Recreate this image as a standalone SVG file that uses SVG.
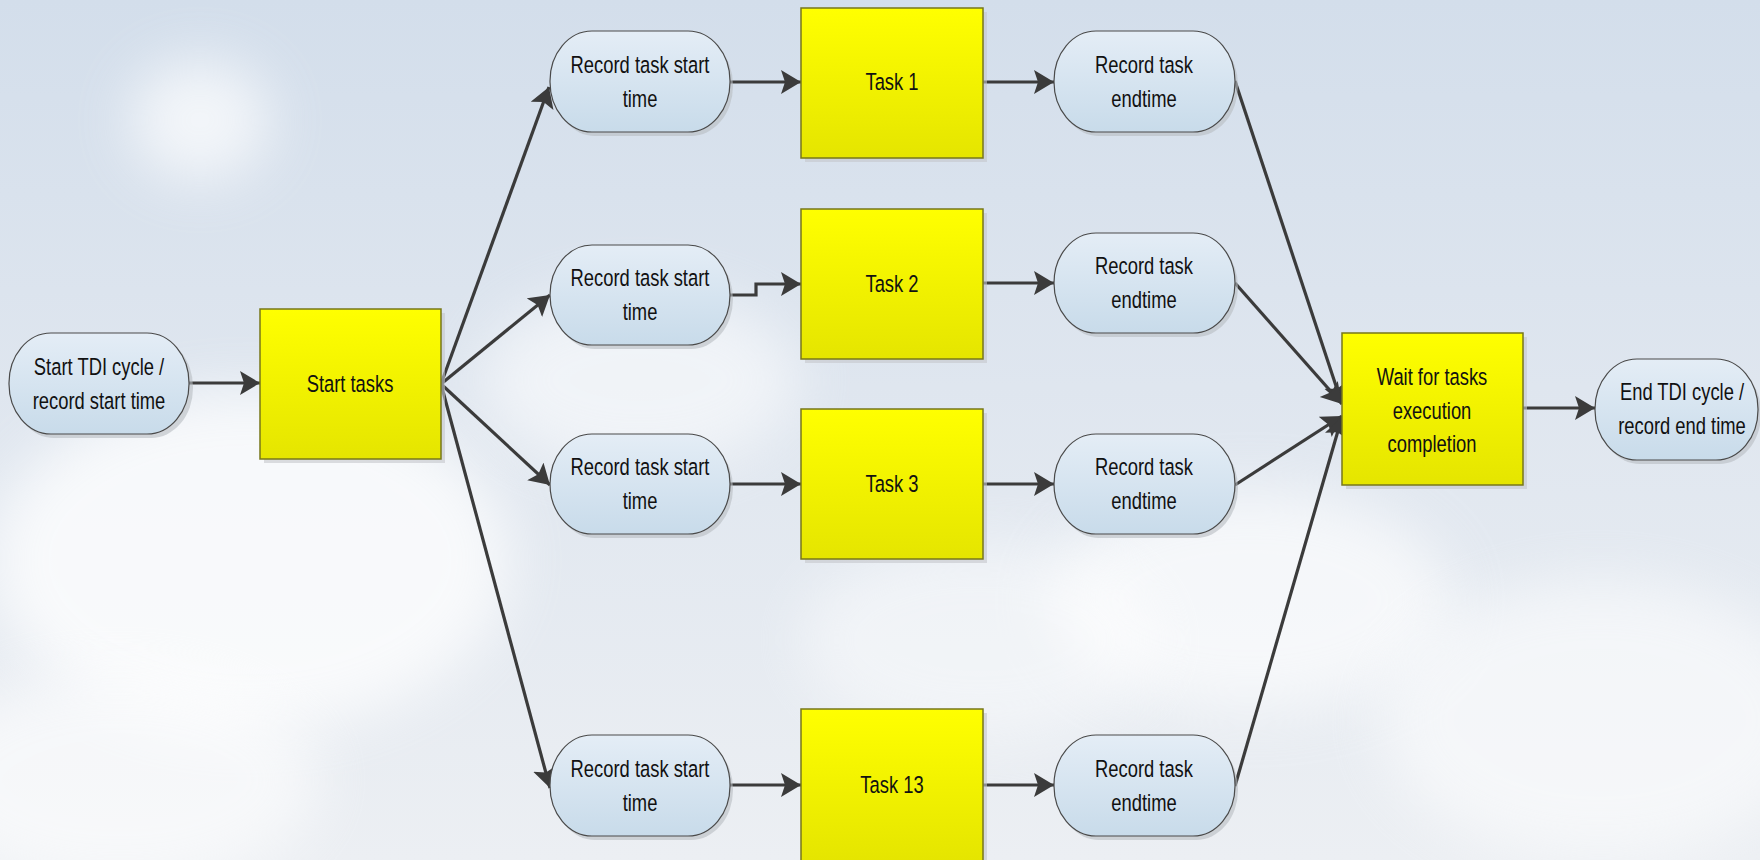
<svg xmlns="http://www.w3.org/2000/svg" width="1760" height="860" viewBox="0 0 1760 860">
  <defs>
    <linearGradient id="sky" x1="0" y1="0" x2="0" y2="1">
      <stop offset="0" stop-color="#d3deeb"/>
      <stop offset="0.45" stop-color="#dfe6ef"/>
      <stop offset="1" stop-color="#eceff3"/>
    </linearGradient>
    <linearGradient id="pillFill" x1="0" y1="0" x2="0" y2="1">
      <stop offset="0" stop-color="#e4edf6"/>
      <stop offset="1" stop-color="#c8dbea"/>
    </linearGradient>
    <linearGradient id="boxFill" x1="0" y1="0" x2="0" y2="1">
      <stop offset="0" stop-color="#ffff00"/>
      <stop offset="1" stop-color="#e5e500"/>
    </linearGradient>
    <filter id="cloudBlur" x="-50%" y="-50%" width="200%" height="200%">
      <feGaussianBlur stdDeviation="28"/>
    </filter>
    <marker id="arrow" markerUnits="userSpaceOnUse" markerWidth="22" markerHeight="26" refX="20" refY="12" orient="auto">
      <path d="M0,0 L20,12 L0,24 L4,12 z" fill="#3b3b3b"/>
    </marker>
    <style>
      .pill { fill: url(#pillFill); stroke: #4a4a4a; stroke-width: 1.2; }
      .pill-shadow { fill: #b8bcc2; opacity: 0.6; }
      .box { fill: url(#boxFill); stroke: #77771a; stroke-width: 1.5; }
      .box-shadow { fill: #c4c7cc; opacity: 0.6; }
      .label { font-family: "Liberation Sans", "DejaVu Sans", sans-serif; font-size: 24.5px; fill: #111111; text-anchor: middle; }
      .edge { fill: none; stroke: #3b3b3b; stroke-width: 3.2; marker-end: url(#arrow); }
      .cloud { fill: #ffffff; filter: url(#cloudBlur); }
    </style>
  </defs>

  <!-- sky backdrop -->
  <rect x="0" y="0" width="1760" height="860" fill="url(#sky)"/>
  <g id="clouds">
    <ellipse class="cloud" cx="200" cy="120" rx="70" ry="60" opacity="0.7"/>
    <ellipse class="cloud" cx="250" cy="560" rx="260" ry="170" opacity="0.75"/>
    <ellipse class="cloud" cx="120" cy="780" rx="200" ry="110" opacity="0.6"/>
    <ellipse class="cloud" cx="640" cy="380" rx="160" ry="90" opacity="0.55"/>
    <ellipse class="cloud" cx="1250" cy="600" rx="200" ry="110" opacity="0.65"/>
    <ellipse class="cloud" cx="1600" cy="720" rx="220" ry="140" opacity="0.55"/>
    <ellipse class="cloud" cx="980" cy="640" rx="180" ry="100" opacity="0.45"/>
  </g>

  <!-- connectors -->
  <g id="connectors">
    <path class="edge" d="M189,383 L260,383"/>
    <path class="edge" d="M441,384 L549,87"/>
    <path class="edge" d="M441,384 L550,295"/>
    <path class="edge" d="M441,384 L550,485"/>
    <path class="edge" d="M441,384 L550,788"/>
    <path class="edge" d="M730,82 L801,82"/>
    <path class="edge" d="M730,295 L756,295 L756,284 L801,284"/>
    <path class="edge" d="M730,484 L801,484"/>
    <path class="edge" d="M730,785 L801,785"/>
    <path class="edge" d="M983,82 L1054,82"/>
    <path class="edge" d="M983,283 L1054,283"/>
    <path class="edge" d="M983,484 L1054,484"/>
    <path class="edge" d="M983,785 L1054,785"/>
    <path class="edge" d="M1235,81 L1342,404"/>
    <path class="edge" d="M1235,283 L1342,404"/>
    <path class="edge" d="M1235,485 L1342,416"/>
    <path class="edge" d="M1235,786 L1342,417"/>
    <path class="edge" d="M1523,408 L1595,408"/>
  </g>

  <!-- start of cycle -->
  <g id="start-cycle">
    <rect class="pill-shadow" x="12" y="337" width="181" height="101" rx="42" ry="50"/>
    <rect class="pill" x="9" y="333" width="180" height="101" rx="42" ry="50"/>
    <text class="label" transform="matrix(0.75,0,0,1,99,0)" x="0" y="375">Start TDI cycle /</text>
    <text class="label" transform="matrix(0.75,0,0,1,99,0)" x="0" y="409">record start time</text>
  </g>

  <g id="start-tasks">
    <rect class="box-shadow" x="264" y="313" width="181" height="150"/>
    <rect class="box" x="260" y="309" width="181" height="150"/>
    <text class="label" transform="matrix(0.75,0,0,1,350,0)" x="0" y="392">Start tasks</text>
  </g>

  <!-- row 1 -->
  <g id="rec-start-1">
    <rect class="pill-shadow" x="553" y="35" width="180" height="101" rx="42" ry="50"/>
    <rect class="pill" x="550" y="31" width="180" height="101" rx="42" ry="50"/>
    <text class="label" transform="matrix(0.75,0,0,1,640,0)" x="0" y="73">Record task start</text>
    <text class="label" transform="matrix(0.75,0,0,1,640,0)" x="0" y="107">time</text>
  </g>
  <g id="task-1">
    <rect class="box-shadow" x="805" y="12" width="182" height="150"/>
    <rect class="box" x="801" y="8" width="182" height="150"/>
    <text class="label" transform="matrix(0.75,0,0,1,892,0)" x="0" y="90">Task 1</text>
  </g>
  <g id="rec-end-1">
    <rect class="pill-shadow" x="1057" y="35" width="181" height="101" rx="42" ry="50"/>
    <rect class="pill" x="1054" y="31" width="181" height="101" rx="42" ry="50"/>
    <text class="label" transform="matrix(0.75,0,0,1,1144,0)" x="0" y="73">Record task</text>
    <text class="label" transform="matrix(0.75,0,0,1,1144,0)" x="0" y="107">endtime</text>
  </g>

  <!-- row 2 -->
  <g id="rec-start-2">
    <rect class="pill-shadow" x="553" y="249" width="180" height="100" rx="42" ry="50"/>
    <rect class="pill" x="550" y="245" width="180" height="100" rx="42" ry="50"/>
    <text class="label" transform="matrix(0.75,0,0,1,640,0)" x="0" y="286">Record task start</text>
    <text class="label" transform="matrix(0.75,0,0,1,640,0)" x="0" y="320">time</text>
  </g>
  <g id="task-2">
    <rect class="box-shadow" x="805" y="213" width="182" height="150"/>
    <rect class="box" x="801" y="209" width="182" height="150"/>
    <text class="label" transform="matrix(0.75,0,0,1,892,0)" x="0" y="292">Task 2</text>
  </g>
  <g id="rec-end-2">
    <rect class="pill-shadow" x="1057" y="237" width="181" height="100" rx="42" ry="50"/>
    <rect class="pill" x="1054" y="233" width="181" height="100" rx="42" ry="50"/>
    <text class="label" transform="matrix(0.75,0,0,1,1144,0)" x="0" y="274">Record task</text>
    <text class="label" transform="matrix(0.75,0,0,1,1144,0)" x="0" y="308">endtime</text>
  </g>

  <!-- row 3 -->
  <g id="rec-start-3">
    <rect class="pill-shadow" x="553" y="438" width="180" height="100" rx="42" ry="50"/>
    <rect class="pill" x="550" y="434" width="180" height="100" rx="42" ry="50"/>
    <text class="label" transform="matrix(0.75,0,0,1,640,0)" x="0" y="475">Record task start</text>
    <text class="label" transform="matrix(0.75,0,0,1,640,0)" x="0" y="509">time</text>
  </g>
  <g id="task-3">
    <rect class="box-shadow" x="805" y="413" width="182" height="150"/>
    <rect class="box" x="801" y="409" width="182" height="150"/>
    <text class="label" transform="matrix(0.75,0,0,1,892,0)" x="0" y="492">Task 3</text>
  </g>
  <g id="rec-end-3">
    <rect class="pill-shadow" x="1057" y="438" width="181" height="100" rx="42" ry="50"/>
    <rect class="pill" x="1054" y="434" width="181" height="100" rx="42" ry="50"/>
    <text class="label" transform="matrix(0.75,0,0,1,1144,0)" x="0" y="475">Record task</text>
    <text class="label" transform="matrix(0.75,0,0,1,1144,0)" x="0" y="509">endtime</text>
  </g>

  <!-- row 13 -->
  <g id="rec-start-13">
    <rect class="pill-shadow" x="553" y="739" width="180" height="101" rx="42" ry="50"/>
    <rect class="pill" x="550" y="735" width="180" height="101" rx="42" ry="50"/>
    <text class="label" transform="matrix(0.75,0,0,1,640,0)" x="0" y="777">Record task start</text>
    <text class="label" transform="matrix(0.75,0,0,1,640,0)" x="0" y="811">time</text>
  </g>
  <g id="task-13">
    <rect class="box-shadow" x="805" y="713" width="182" height="150"/>
    <rect class="box" x="801" y="709" width="182" height="152"/>
    <text class="label" transform="matrix(0.75,0,0,1,892,0)" x="0" y="793">Task 13</text>
  </g>
  <g id="rec-end-13">
    <rect class="pill-shadow" x="1057" y="739" width="181" height="101" rx="42" ry="50"/>
    <rect class="pill" x="1054" y="735" width="181" height="101" rx="42" ry="50"/>
    <text class="label" transform="matrix(0.75,0,0,1,1144,0)" x="0" y="777">Record task</text>
    <text class="label" transform="matrix(0.75,0,0,1,1144,0)" x="0" y="811">endtime</text>
  </g>

  <!-- join and end of cycle -->
  <g id="wait-tasks">
    <rect class="box-shadow" x="1346" y="337" width="181" height="152"/>
    <rect class="box" x="1342" y="333" width="181" height="152"/>
    <text class="label" transform="matrix(0.75,0,0,1,1432,0)" x="0" y="385">Wait for tasks</text>
    <text class="label" transform="matrix(0.75,0,0,1,1432,0)" x="0" y="419">execution</text>
    <text class="label" transform="matrix(0.75,0,0,1,1432,0)" x="0" y="452">completion</text>
  </g>
  <g id="end-cycle">
    <rect class="pill-shadow" x="1598" y="363" width="163" height="101" rx="42" ry="50"/>
    <rect class="pill" x="1595" y="359" width="163" height="101" rx="42" ry="50"/>
    <text class="label" transform="matrix(0.75,0,0,1,1682,0)" x="0" y="400">End TDI cycle /</text>
    <text class="label" transform="matrix(0.75,0,0,1,1682,0)" x="0" y="434">record end time</text>
  </g>
</svg>
